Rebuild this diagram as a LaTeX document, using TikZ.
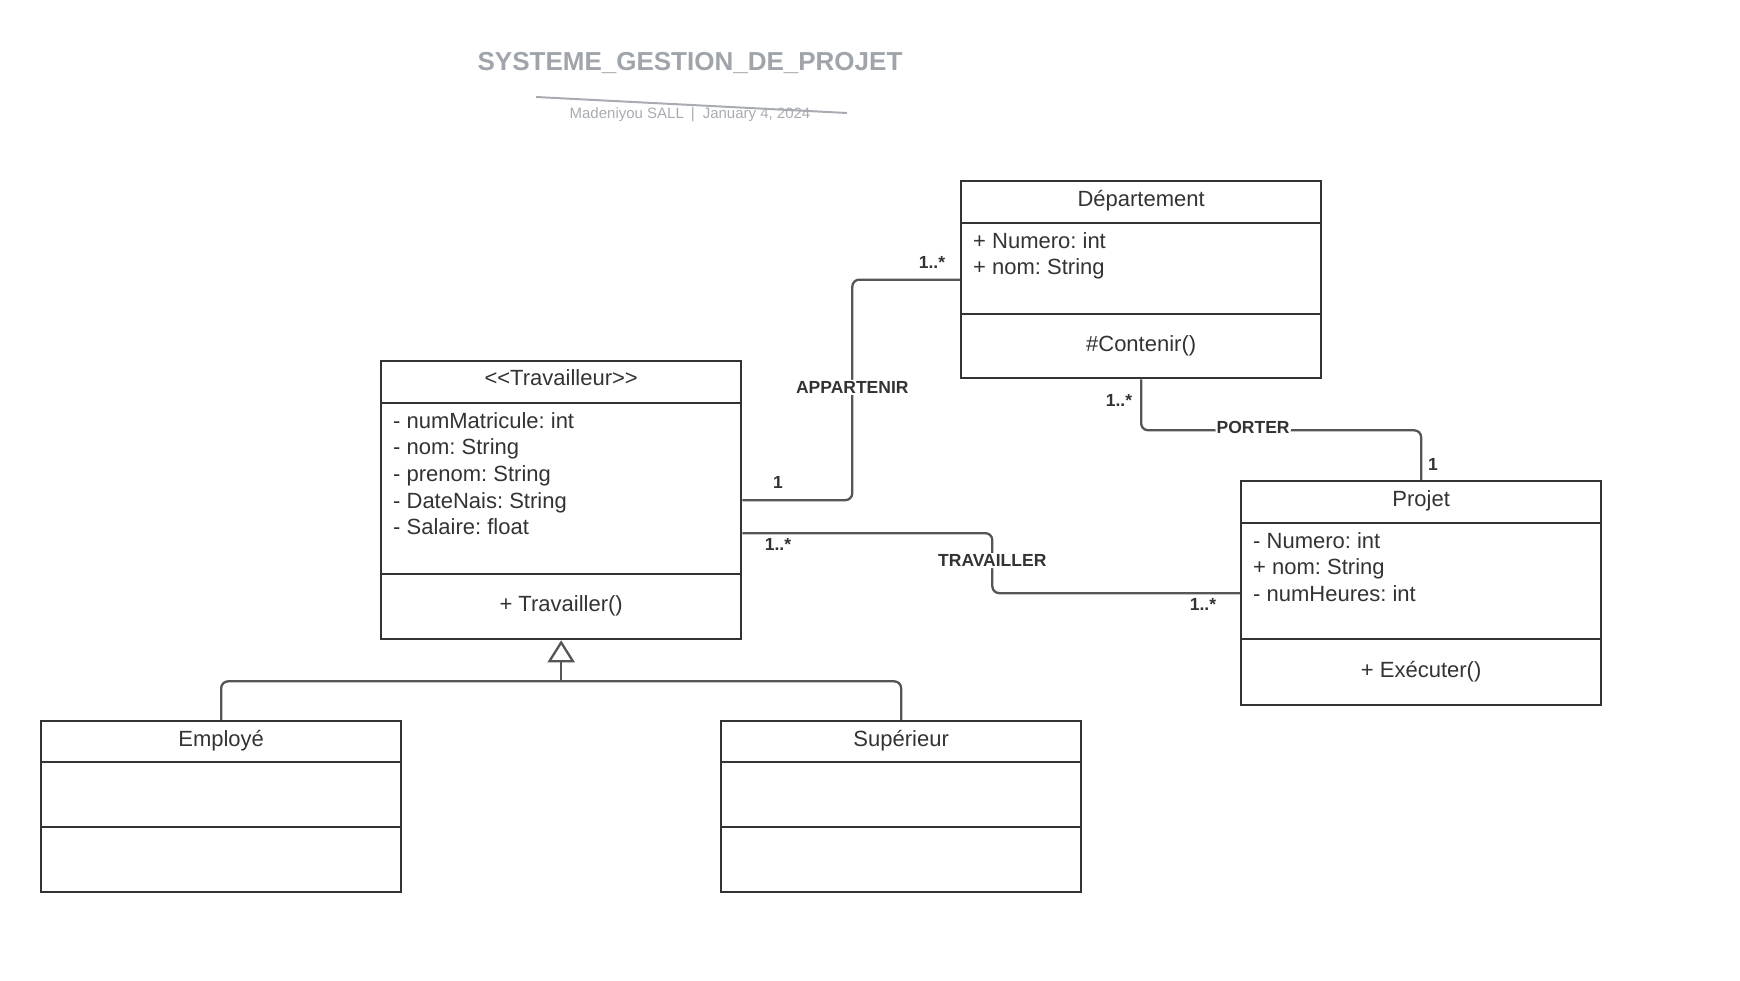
\documentclass[tikz,border=0pt]{standalone}
\usepackage{fontspec}
\setmainfont{Liberation Sans}
\usetikzlibrary{arrows.meta,calc}
\definecolor{ink}{HTML}{333333}
\definecolor{wire}{HTML}{555555}
\definecolor{ttl}{HTML}{A0A4AB}
\definecolor{subc}{HTML}{A8ACB2}
\frenchspacing
\begin{document}
\begin{tikzpicture}[x=1pt,y=-1pt,
  box/.style={draw=ink, line width=2.3pt, minimum width=360pt, anchor=north west, inner sep=0pt},
  sepline/.style={draw=ink, line width=2.3pt},
  ctitle/.style={font=\fontsize{22}{26}\selectfont, text=ink, anchor=base, inner sep=0pt},
  attr/.style={font=\fontsize{22}{26}\selectfont, text=ink, anchor=base west, inner sep=0pt},
  conn/.style={draw=wire, line width=2.3pt, rounded corners=7pt},
  lbl/.style={font=\fontsize{17.5}{20}\selectfont\bfseries, text=ink, fill=white, inner sep=1.5pt, yshift=2.5pt},
  mult/.style={font=\fontsize{17.5}{20}\selectfont\bfseries, text=ink, inner sep=0pt}
]
\useasboundingbox (0,0) rectangle (1740,980);

% title
\node[font=\fontsize{26}{30}\selectfont\bfseries, text=ttl, anchor=base, inner sep=0pt] (title) at (690,70) {SYSTEME\_GESTION\_DE\_PROJET};
\node[font=\fontsize{15}{18}\selectfont, text=subc, anchor=base, inner sep=0pt] (subt) at (690,118) {Madeniyou SALL\hspace{7pt}|\hspace{8pt}January 4, 2024};
\coordinate (s1) at (536,97);
\coordinate (s2) at (847,113);
\draw[draw=subc, line width=2pt] (s1) -- (s2);

% Departement
\node[box, minimum height=197pt] (dep) at (960,180) {};
\draw[sepline] ($(dep.north west)+(0,43)$) -- ($(dep.north east)+(0,43)$);
\draw[sepline] ($(dep.north west)+(0,134)$) -- ($(dep.north east)+(0,134)$);
\node[ctitle] (dep-t) at ($(dep.north)+(0,26)$) {Département};
\node[attr] (dep-a1) at ($(dep.north west)+(13,68)$) {+ Numero: int};
\node[attr] (dep-a2) at ($(dep.north west)+(13,94.7)$) {+ nom: String};
\node[ctitle] (dep-m) at ($(dep.north)+(0,171)$) {\#Contenir()};

% Travailleur
\node[box, minimum height=278pt] (trav) at (380,360) {};
\draw[sepline] ($(trav.north west)+(0,43)$) -- ($(trav.north east)+(0,43)$);
\draw[sepline] ($(trav.north west)+(0,214)$) -- ($(trav.north east)+(0,214)$);
\node[ctitle] (trav-t) at ($(trav.north)+(0,25)$) {<\kern0pt<Travailleur>\kern0pt>};
\node[attr] (trav-a1) at ($(trav.north west)+(13,68)$) {- numMatricule: int};
\node[attr] (trav-a2) at ($(trav.north west)+(13,94.7)$) {- nom: String};
\node[attr] (trav-a3) at ($(trav.north west)+(13,121.4)$) {- prenom: String};
\node[attr] (trav-a4) at ($(trav.north west)+(13,148.1)$) {- DateNais: String};
\node[attr] (trav-a5) at ($(trav.north west)+(13,174.8)$) {- Salaire: float};
\node[ctitle] (trav-m) at ($(trav.north)+(0,251)$) {+ Travailler()};

% Projet
\node[box, minimum height=224pt] (proj) at (1240,480) {};
\draw[sepline] ($(proj.north west)+(0,43)$) -- ($(proj.north east)+(0,43)$);
\draw[sepline] ($(proj.north west)+(0,159)$) -- ($(proj.north east)+(0,159)$);
\node[ctitle] (proj-t) at ($(proj.north)+(0,26)$) {Projet};
\node[attr] (proj-a1) at ($(proj.north west)+(13,68)$) {- Numero: int};
\node[attr] (proj-a2) at ($(proj.north west)+(13,94.7)$) {+ nom: String};
\node[attr] (proj-a3) at ($(proj.north west)+(13,121.4)$) {- numHeures: int};
\node[ctitle] (proj-m) at ($(proj.north)+(0,197)$) {+ Exécuter()};

% Employe
\node[box, minimum height=171pt] (emp) at (40,720) {};
\draw[sepline] ($(emp.north west)+(0,42)$) -- ($(emp.north east)+(0,42)$);
\draw[sepline] ($(emp.north west)+(0,107)$) -- ($(emp.north east)+(0,107)$);
\node[ctitle] (emp-t) at ($(emp.north)+(0,26)$) {Employé};

% Superieur
\node[box, minimum height=171pt] (sup) at (720,720) {};
\draw[sepline] ($(sup.north west)+(0,42)$) -- ($(sup.north east)+(0,42)$);
\draw[sepline] ($(sup.north west)+(0,107)$) -- ($(sup.north east)+(0,107)$);
\node[ctitle] (sup-t) at ($(sup.north)+(0,26)$) {Supérieur};

% associations
\draw[conn] (trav.east) -- ++(110,0) |- node[lbl, pos=0.25] (l-app) {APPARTENIR} (dep.west);
\draw[conn] ([yshift=-33pt]trav.east) -- ++(250,0) |- node[lbl, pos=0.25] (l-trav) {TRAVAILLER} (proj.west);
\draw[conn] (dep.south) -- ++(0,51) -| node[lbl, pos=0.2] (l-port) {PORTER} (proj.north);

\node[mult] (m1) at (932,262) {1..*};
\node[mult] (m2) at (778,482) {1};
\node[mult] (m3) at (778,544) {1..*};
\node[mult] (m4) at (1203,604) {1..*};
\node[mult] (m5) at (1119,400) {1..*};
\node[mult] (m6) at (1433,464) {1};

% generalisation
\coordinate (gj) at ($(trav.south)+(0,41)$);
\draw[conn] (emp.north) |- (gj);
\draw[conn] (sup.north) |- (gj);
\draw[draw=wire, line width=2.3pt, -{Triangle[open, length=22pt, width=27pt, line width=2.3pt]}] (gj) -- (trav.south);
\end{tikzpicture}
\end{document}
